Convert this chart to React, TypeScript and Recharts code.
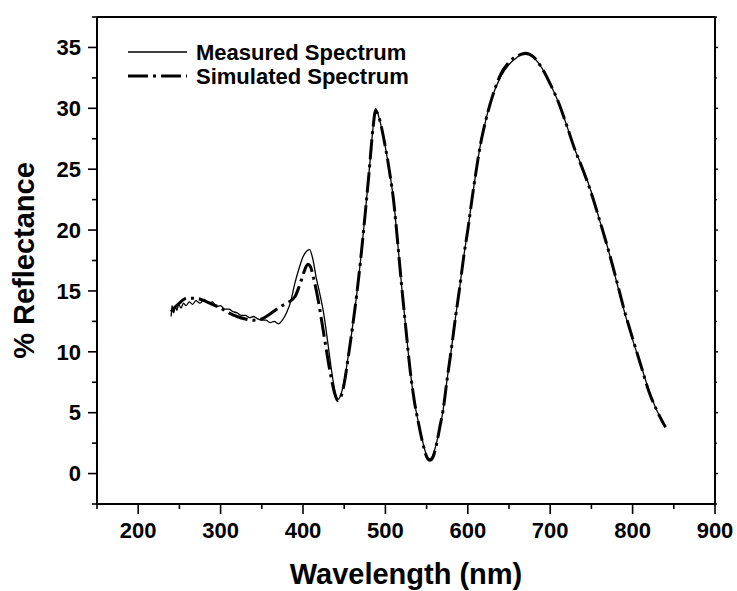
import React from 'react';
import { LineChart, Line, XAxis, YAxis, Legend, Label } from 'recharts';

const FONT = '"Liberation Sans", Arial, Helvetica, sans-serif';

const measuredWavelength = [
  240, 241, 243, 245, 247, 249, 252, 255, 258, 262, 266, 270, 275, 280, 285, 290, 295, 300, 305, 310,
  315, 320, 325, 330, 335, 340, 345, 350, 355, 360, 365, 370, 375, 380, 385, 390, 395, 400, 405, 408,
  412, 416, 420, 425, 430, 435, 440, 443, 446, 450, 455, 460, 465, 470, 475, 480, 485, 488, 492, 496,
  500, 505, 510, 515, 520, 525, 530, 535, 540, 545, 550, 553, 556, 560, 565, 570, 575, 580, 585, 590,
  595, 600, 605, 610, 615, 620, 630, 640, 650, 660, 670, 675, 680, 690, 700, 710, 720, 730, 740, 750,
  760, 770, 780, 790, 800, 810, 820, 830, 835, 840,
];
const measuredReflectance = [
  12.9, 13.8, 13.2, 13.7, 13.4, 13.9, 13.6, 14.0, 13.8, 14.1, 13.9, 14.2, 14.0, 14.3, 14.0, 14.1, 13.7, 13.8, 13.5, 13.5,
  13.3, 13.2, 13.0, 13.0, 12.8, 12.9, 12.7, 12.6, 12.6, 12.4, 12.5, 12.3, 12.6, 13.2, 14.1, 15.6, 16.8, 17.8, 18.3, 18.4,
  17.6, 16.1, 14.9, 13.2, 10.8, 8.3, 6.4, 6.1, 6.5, 7.6, 9.7, 12.0, 14.6, 17.6, 21.0, 24.6, 28.4, 30.0, 29.3, 28.2,
  26.8, 24.8, 22.4, 18.9, 15.2, 11.8, 8.5, 6.0, 4.2, 2.7, 1.5, 1.2, 1.3, 2.0, 3.4, 5.2, 7.8, 10.2, 12.8, 15.2,
  17.8, 20.0, 22.5, 24.8, 26.9, 28.5, 31.0, 32.6, 33.6, 34.2, 34.6, 34.5, 34.2, 33.3, 32.0, 30.5, 28.6, 26.6, 25.0, 23.1,
  20.8, 18.5, 15.9, 13.3, 11.0, 8.9, 6.8, 5.1, 4.5, 3.8,
];

const simulatedWavelength = [
  240, 245, 250, 255, 260, 270, 280, 290, 300, 310, 320, 330, 340, 350, 360, 370, 380, 390, 395, 400,
  403, 406, 409, 413, 418, 423, 428, 433, 438, 442, 446, 450, 455, 460, 465, 470, 475, 480, 485, 488,
  492, 496, 500, 505, 510, 515, 520, 525, 530, 535, 540, 545, 550, 554, 558, 562, 566, 570, 575, 580,
  585, 590, 595, 600, 605, 610, 615, 620, 630, 640, 650, 660, 670, 680, 690, 700, 710, 720, 730, 740,
  750, 760, 770, 780, 790, 800, 810, 820, 830, 840,
];
const simulatedReflectance = [
  13.3, 13.7, 14.0, 14.3, 14.4, 14.4, 14.2, 13.9, 13.6, 13.2, 12.9, 12.7, 12.6, 12.7, 13.1, 13.6, 14.0, 14.5, 15.3, 16.3,
  16.9, 17.2, 17.0, 16.0, 14.4, 12.4, 10.3, 8.3, 6.7, 6.0, 6.3, 7.4, 9.6, 12.0, 14.6, 17.6, 21.0, 24.6, 28.4, 29.8,
  29.3, 28.2, 26.8, 24.8, 22.4, 18.9, 15.2, 11.8, 8.5, 6.0, 4.2, 2.6, 1.4, 1.1, 1.4, 2.4, 3.8, 5.2, 7.8, 10.2,
  12.8, 15.2, 17.8, 20.0, 22.5, 24.8, 26.9, 28.5, 31.0, 32.8, 33.8, 34.3, 34.5, 34.2, 33.3, 32.0, 30.5, 28.6, 26.6, 24.9,
  23.0, 20.8, 18.5, 16.0, 13.4, 11.1, 8.9, 6.7, 5.1, 3.8,
];

const xTicks = [150, 200, 250, 300, 350, 400, 450, 500, 550, 600, 650, 700, 750, 800, 850, 900];
const yTicks = [-2.5, 0, 2.5, 5, 7.5, 10, 12.5, 15, 17.5, 20, 22.5, 25, 27.5, 30, 32.5, 35, 37.5];
const seriesNames = ['Measured Spectrum', 'Simulated Spectrum'];

const measuredData = measuredWavelength.map((wl, i) => ({ wl, r: measuredReflectance[i] }));
const simulatedData = simulatedWavelength.map((wl, i) => ({ wl, r: simulatedReflectance[i] }));

const SIM_DASH = '20 5 3 5';

const textStyle = { fontFamily: FONT, fontWeight: 'bold' as const, fill: '#000' };

const BottomTick = (props: any) => {
  const { x, y, payload } = props;
  const major = payload.value % 100 === 0;
  return (
    <g>
      <line x1={x} y1={y} x2={x} y2={y + (major ? 10 : 5)} stroke="#000" strokeWidth={1.6} />
      {major && (
        <text x={x} y={y + 34} textAnchor="middle" fontSize={22} {...textStyle}>
          {payload.value}
        </text>
      )}
    </g>
  );
};

const TopTick = (props: any) => {
  const { x, y, payload } = props;
  const major = payload.value % 100 === 0;
  return <line x1={x} y1={y} x2={x} y2={y - (major ? 9 : 5)} stroke="#000" strokeWidth={1.6} />;
};

const LeftTick = (props: any) => {
  const { x, y, payload } = props;
  const major = payload.value % 5 === 0;
  return (
    <g>
      <line x1={x - (major ? 9 : 5)} y1={y} x2={x} y2={y} stroke="#000" strokeWidth={1.6} />
      {major && (
        <text x={x - 16} y={y + 7.8} textAnchor="end" fontSize={22} {...textStyle}>
          {payload.value}
        </text>
      )}
    </g>
  );
};

const RightTick = (props: any) => {
  const { x, y, payload } = props;
  const major = payload.value % 5 === 0;
  return <line x1={x} y1={y} x2={x + (major ? 3 : 2)} y2={y} stroke="#000" strokeWidth={1.4} />;
};

const LegendContent = () => (
  <svg width={320} height={60} style={{ display: 'block' }}>
    <line x1={8} x2={67} y1={16} y2={16} stroke="#000" strokeWidth={1.5} />
    <text x={76} y={24} fontSize={22} {...textStyle}>{seriesNames[0]}</text>
    <line x1={8} x2={67} y1={40} y2={40} stroke="#000" strokeWidth={3} strokeDasharray={SIM_DASH} />
    <text x={76} y={48} fontSize={22} {...textStyle}>{seriesNames[1]}</text>
  </svg>
);

export default function App() {
  return (
    <div style={{ position: 'absolute', left: 0, top: 0, width: 737, height: 591, background: '#fff' }}>
      <LineChart width={737} height={591} margin={{ top: 7, right: 12, bottom: 0, left: 0 }}>
        <XAxis
          dataKey="wl"
          type="number"
          domain={[150, 900]}
          ticks={xTicks}
          allowDataOverflow
          height={87}
          tickSize={0}
          tickMargin={0}
          tickLine={false}
          tick={<BottomTick />}
          axisLine={{ stroke: '#000', strokeWidth: 2 }}
          interval={0}
        >
          <Label
            value="Wavelength (nm)"
            position="insideBottom"
            offset={7}
            fill="#000"
            style={{ fontSize: 29, fontWeight: 'bold', fontFamily: FONT, fill: '#000' }}
          />
        </XAxis>
        <XAxis
          xAxisId="top"
          orientation="top"
          type="number"
          domain={[150, 900]}
          ticks={xTicks}
          allowDataOverflow
          height={10}
          tickSize={0}
          tickMargin={0}
          tickLine={false}
          tick={<TopTick />}
          axisLine={{ stroke: '#000', strokeWidth: 2 }}
          interval={0}
        />
        <YAxis
          type="number"
          domain={[-2.5, 37.5]}
          ticks={yTicks}
          allowDataOverflow
          width={97}
          tickSize={0}
          tickMargin={0}
          tickLine={false}
          tick={<LeftTick />}
          axisLine={{ stroke: '#000', strokeWidth: 2 }}
          interval={0}
        >
          <Label
            value="% Reflectance"
            position="insideLeft"
            angle={-90}
            offset={24}
            fill="#000"
            style={{ fontSize: 29, fontWeight: 'bold', fontFamily: FONT, fill: '#000', textAnchor: 'middle' }}
          />
        </YAxis>
        <YAxis
          yAxisId="right"
          orientation="right"
          type="number"
          domain={[-2.5, 37.5]}
          ticks={yTicks}
          allowDataOverflow
          width={10}
          tickSize={0}
          tickMargin={0}
          tickLine={false}
          tick={<RightTick />}
          axisLine={{ stroke: '#000', strokeWidth: 2 }}
          interval={0}
        />
        <Legend
          layout="horizontal"
          verticalAlign="middle"
          align="center"
          content={<LegendContent />}
          wrapperStyle={{ position: 'absolute', left: 120, top: 36, width: 320, height: 60 }}
        />
        <Line
          data={simulatedData}
          dataKey="r"
          name={seriesNames[1]}
          type="monotone"
          stroke="#000"
          strokeWidth={3}
          strokeDasharray={SIM_DASH}
          dot={false}
          activeDot={false}
          isAnimationActive={false}
        />
        <Line
          data={measuredData}
          dataKey="r"
          name={seriesNames[0]}
          type="monotone"
          stroke="#000"
          strokeWidth={1.3}
          dot={false}
          activeDot={false}
          isAnimationActive={false}
        />
      </LineChart>
    </div>
  );
}
